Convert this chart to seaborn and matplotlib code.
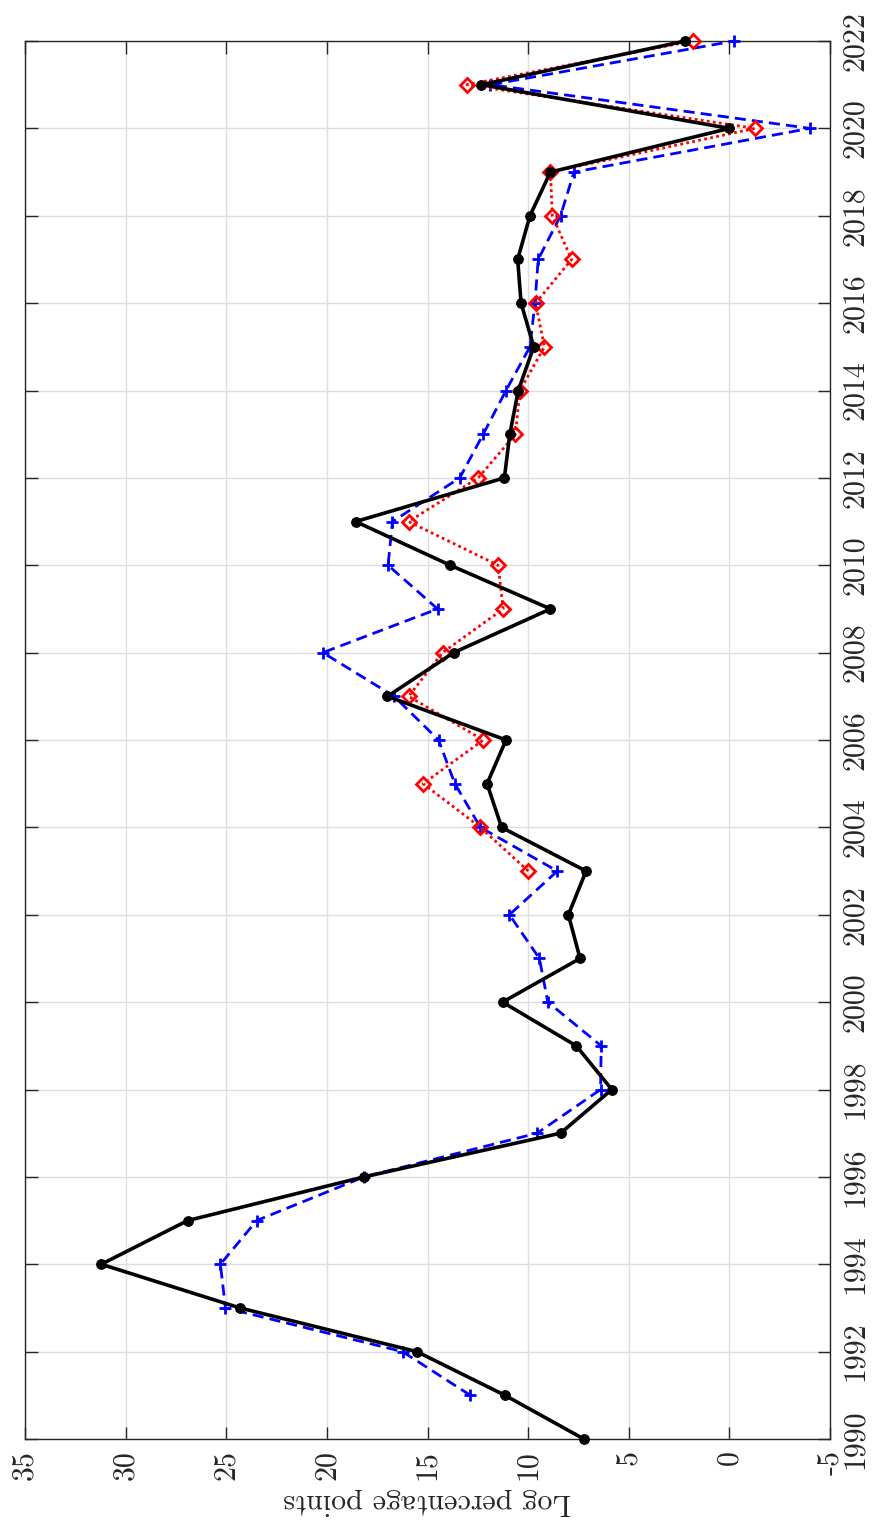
import matplotlib
matplotlib.use("Agg")
import matplotlib.pyplot as plt
import seaborn as sns
import pandas as pd

# Annual series (log percentage points)
years_black = list(range(1990, 2023))
black_vals = [7.23, 11.15, 15.53, 24.32, 31.21, 26.92, 18.15, 8.39, 5.84, 7.61,
              11.27, 7.42, 8.00, 7.12, 11.32, 12.04, 11.10, 16.99, 13.70, 8.89,
              13.87, 18.57, 11.18, 10.91, 10.49, 9.72, 10.35, 10.52, 9.91, 8.89,
              0.00, 12.32, 2.19]

years_blue = list(range(1991, 2023))
blue_vals = [12.87, 16.24, 25.04, 25.29, 23.49, 18.15, 9.55, 6.40, 6.37, 9.02,
             9.44, 10.93, 8.55, 12.37, 13.64, 14.45, 16.66, 20.20, 14.50, 16.96,
             16.74, 13.40, 12.23, 11.10, 9.91, 9.66, 9.50, 8.39, 7.72, -4.00,
             11.87, -0.24]

years_red = list(range(2003, 2023))
red_vals = [9.99, 12.37, 15.22, 12.23, 15.94, 14.25, 11.24, 11.49, 15.94, 12.48,
            10.63, 10.41, 9.19, 9.63, 7.84, 8.80, 8.89, -1.27, 13.04, 1.83]

year_ticks = list(range(1990, 2023, 2))
value_ticks = [35, 30, 25, 20, 15, 10, 5, 0, -5]
value_tick_labels = ["35", "30", "25", "20", "15", "10", "5", "0", "-5"]
value_label = "Log percentage points"

sns.set_style("ticks")
plt.rcParams["font.family"] = ["cmr10", "DejaVu Serif"]
plt.rcParams["axes.unicode_minus"] = False
plt.rcParams["axes.formatter.use_mathtext"] = True

fig = plt.figure(figsize=(8.72, 15.27), dpi=100)
ax = fig.add_axes([25 / 872, 1 - 1439 / 1527, (830 - 25) / 872, (1439 - 41) / 1527])

df_black = pd.DataFrame({"year": years_black, "value": black_vals})
df_blue = pd.DataFrame({"year": years_blue, "value": blue_vals})
df_red = pd.DataFrame({"year": years_red, "value": red_vals})

sns.lineplot(data=df_blue, x="value", y="year", sort=False, estimator=None, ax=ax,
             color="#0000ff", linestyle=(0, (4, 2.2)), linewidth=2.0,
             marker="+", markersize=9, markeredgewidth=2.0,
             markeredgecolor="#0000ff", clip_on=False, zorder=3)
sns.lineplot(data=df_red, x="value", y="year", sort=False, estimator=None, ax=ax,
             color="#ff0000", linestyle=(0, (1, 1.2)), linewidth=2.0,
             marker="D", markersize=7, markerfacecolor="none",
             markeredgecolor="#ff0000", markeredgewidth=2.0, clip_on=False, zorder=4)
sns.lineplot(data=df_black, x="value", y="year", sort=False, estimator=None, ax=ax,
             color="black", linestyle="-", linewidth=2.6,
             marker="o", markersize=7, markeredgecolor="black", clip_on=False, zorder=5)

ax.set_xlim(35, -5)
ax.set_ylim(1990, 2022)

ax.set_xticks(value_ticks, value_tick_labels)
ax.set_yticks(year_ticks, [str(y) for y in year_ticks])
ax.yaxis.tick_right()

ax.tick_params(axis="both", direction="in", length=9, width=1.0, color="#262626",
               top=True, bottom=True, left=True, right=True,
               labelsize=21.5, labelcolor="#262626")
ax.tick_params(axis="y", labelleft=False, labelright=True, pad=8)
ax.tick_params(axis="x", labeltop=False, labelbottom=True, pad=8)
for lab in ax.get_yticklabels():
    lab.set_rotation(90)
    lab.set_va("center")
for lab in ax.get_xticklabels():
    lab.set_rotation(90)
    lab.set_ha("center")
    lab.set_va("top")

ax.set_xlabel(value_label, fontsize=21.5, rotation=180, color="#262626", labelpad=6)
ax.set_ylabel("")

ax.grid(True, color="#dedede", linewidth=1.0)
ax.set_axisbelow(True)
for s in ax.spines.values():
    s.set_visible(True)
    s.set_color("#262626")
    s.set_linewidth(1.0)

fig.savefig("out.png", dpi=100)
